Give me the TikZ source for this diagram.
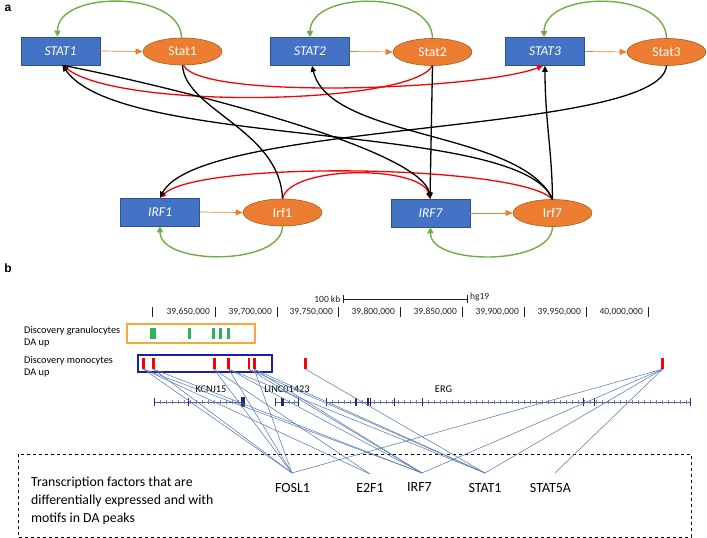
\documentclass[tikz,border=0pt]{standalone}
\usepackage{fontspec}
\setmainfont{Carlito}
\newfontfamily\arialfont{Liberation Sans}
\usetikzlibrary{shapes.geometric,arrows.meta}
\definecolor{geneblue}{HTML}{4472C4}
\definecolor{genebd}{HTML}{2F528F}
\definecolor{protor}{HTML}{ED7D31}
\definecolor{protbd}{HTML}{AE5A21}
\definecolor{loopgreen}{HTML}{70AD47}
\definecolor{linkblue}{HTML}{5B7DB8}
\definecolor{navy}{HTML}{1F2A7A}
\definecolor{gorange}{HTML}{F5A93A}
\definecolor{gbox}{HTML}{1C1CB0}
\definecolor{ggreen}{HTML}{2EB25A}
\definecolor{txtgray}{HTML}{222222}
\begin{document}
\begin{tikzpicture}[x=1pt,y=-1pt,
  gene/.style={draw=genebd, fill=geneblue, minimum width=79pt, minimum height=28pt, inner sep=0pt, text=white, font=\fontsize{13.5}{15}\selectfont\itshape, line width=0.6pt},
  prot/.style={ellipse, draw=protbd, fill=protor, minimum width=79pt, minimum height=27pt, inner sep=0pt, text=white, font=\fontsize{13.5}{15}\selectfont, line width=0.6pt},
  selfloop/.style={draw=loopgreen, line width=1.4pt, -{Triangle[length=6pt,width=6pt]}},
  expr/.style={draw=protor, line width=0.7pt, -{Triangle[length=7pt,width=6pt]}},
  act/.style={draw=black, line width=1.3pt, -{Triangle[length=6pt,width=5.5pt]}},
  actplain/.style={draw=black, line width=1.3pt},
  rep/.style={draw=red, line width=1.3pt, -{Triangle[length=6pt,width=5.5pt]}},
  tick/.style={font=\fontsize{9.5}{11}\selectfont, text=txtgray, inner sep=0pt},
  trk/.style={font=\fontsize{10.3}{12}\selectfont, text=black, inner sep=0pt, align=left},
  pk/.style={minimum width=3pt, minimum height=11pt, inner sep=0pt, draw=none},
  link/.style={draw=linkblue, line width=0.55pt},
  tf/.style={font=\fontsize{14}{16}\selectfont, text=black, inner sep=0pt},
  panel/.style={font=\arialfont\bfseries\fontsize{12}{14}\selectfont, inner sep=0pt}
]
\useasboundingbox (0,0) rectangle (707,538);

% ---------------- panel a ----------------
\node[panel] (la) at (8,8) {a};

\node[gene] (STAT1) at (60.5,51) {STAT1};
\node[prot] (Stat1) at (182.5,51.5) {Stat1};
\node[gene] (STAT2) at (310,51.5) {STAT2};
\node[prot] (Stat2) at (432.5,52) {Stat2};
\node[gene] (STAT3) at (545,51.5) {STAT3};
\node[prot] (Stat3) at (666.5,52) {Stat3};
\node[gene] (IRF1) at (160,212) {IRF1};
\node[prot] (Irf1) at (282.5,212.5) {Irf1};
\node[gene] (IRF7) at (430.5,213) {IRF7};
\node[prot] (Irf7) at (552.5,213) {Irf7};

% expression arrows
\draw[expr] (STAT1.east) -- (Stat1.west);
\draw[expr] (STAT2.east) -- (Stat2.west);
\draw[expr] (STAT3.east) -- (Stat3.west);
\draw[expr] (IRF1.east) -- (Irf1.west);
\draw[expr] (IRF7.east) -- (Irf7.west);

% self loops
\draw[selfloop] ([xshift=-1pt]Stat1.north) .. controls (181,-10) and (57,-10) .. ([xshift=-3pt]STAT1.north);
\draw[selfloop] (Stat2.north) .. controls (432,-10) and (310,-10) .. (STAT2.north);
\draw[selfloop] (Stat3.north) .. controls (666,-10) and (544,-10) .. ([xshift=-1pt]STAT3.north);
\draw[selfloop] (Irf1.south) .. controls (282,266) and (160,266) .. (IRF1.south);
\draw[selfloop] (Irf7.south) .. controls (552,266) and (430,266) .. (IRF7.south);

% red edges
\draw[rep] ([xshift=1pt]Stat1.south) .. controls (200,100) and (480,90) .. ([xshift=-2pt]STAT3.south);
\draw[rep] (Stat2.south) .. controls (410,105) and (120,110) .. ([xshift=2pt]STAT1.south);
\draw[rep] (Irf7.north) .. controls (520,165) and (200,160) .. (IRF1.north);
\draw[rep] (Irf1.north) .. controls (290,165) and (420,165) .. (IRF7.north);

% black edges
\draw[act] (Stat2.south) -- ([xshift=-0.5pt]IRF7.north);
\draw[act] (Irf7.north) .. controls (552,150) and (545,120) .. (STAT3.south);
\draw[act] (Irf7.north) .. controls (520,130) and (330,140) .. ([xshift=2pt]STAT2.south);
\draw[act] (Irf7.north) .. controls (520,120) and (120,150) .. ([xshift=2pt]STAT1.south);
\draw[act] ([xshift=2pt]STAT1.south) .. controls (140,80) and (420,145) .. (IRF7.north);
\draw[actplain] (Stat1.south) .. controls (185,110) and (280,130) .. (Irf1.north);
\draw[act] (Stat3.south) .. controls (660,135) and (200,120) .. (IRF1.north);

% ---------------- panel b ----------------
\node[panel] (lb) at (8,268) {b};

% scale bar
\node[tick, anchor=east] (kb) at (340.5,299) {100 kb};
\node[tick, anchor=west] (hg) at (470,297.5) {hg19};
\draw[txtgray, line width=0.5pt] (343,299) -- (467,299) (343,295) -- (343,303) (467,295) -- (467,303);

% coordinate ticks
\draw[txtgray, line width=0.5pt] (152,307) -- (152,317);
\foreach \bx/\lab in {215/{39,650,000}, 277/{39,700,000}, 338/{39,750,000}, 400/{39,800,000}, 462/{39,850,000}, 524/{39,900,000}, 586/{39,950,000}, 648/{40,000,000}}{
  \draw[txtgray, line width=0.5pt] (\bx,307) -- (\bx,317);
  \node[tick, anchor=east] at (\bx-5,312) {\lab};
}

% tracks
\node[trk, anchor=west] (tg) at (24,337) {Discovery granulocytes\\DA up};
\draw[gorange, line width=1.8pt] (127,324) rectangle (255,343);
\foreach \gx/\gw in {153/5.5, 189/3, 213/3, 220/3, 228/3}{
  \fill[ggreen] (\gx-\gw/2,328) rectangle (\gx+\gw/2,339);
}

\node[trk, anchor=west] (tm) at (24,367) {Discovery monocytes\\DA up};
\draw[gbox, line width=1.8pt] (138,355) rectangle (272,372);
\node[pk, fill=red] (p1) at (143.6,363.5) {};
\node[pk, fill=red] (p2) at (153.6,363.5) {};
\node[pk, fill=red] (p3) at (214,363.5) {};
\node[pk, fill=red] (p4) at (228.6,363.5) {};
\node[pk, fill=red, minimum width=1.5pt] (p5) at (249,363.5) {};
\node[pk, fill=red] (p6) at (254.2,363.5) {};
\node[pk, fill=red] (p7) at (305.5,363.5) {};
\node[pk, fill=red] (p8) at (662.5,363.5) {};

% gene track
\node[trk] (gk) at (211,389.5) {KCNJ15};
\node[trk] (gl) at (287,389.5) {LINC01423};
\node[trk] (ge) at (443.5,389.5) {ERG};
\draw[navy!75, line width=0.6pt] (154,402) -- (244,402) (275,402) -- (298,402) (326,402) -- (690,402);
\foreach \x in {160,166,...,238} \draw[navy!60, line width=0.4pt] (\x,400.3) -- (\x,403.7);
\foreach \x in {289,294} \draw[navy!60, line width=0.4pt] (\x,400.3) -- (\x,403.7);
\foreach \x in {332,338,...,688} \draw[navy!60, line width=0.4pt] (\x,400.3) -- (\x,403.7);
\foreach \x in {154,188,275,298,326,355,356.8,367,368.5,370,394,422,583,594,690}
  \draw[navy, line width=0.8pt] (\x,398) -- (\x,406);
\fill[navy] (241,397) rectangle (244.5,407);
\fill[navy] (281,398) rectangle (283.5,406);

% transcription factor box
\draw[black, dashed, line width=0.8pt] (18,454) rectangle (691,537);
\node[tf, anchor=west, align=left, font=\fontsize{13.8}{18}\selectfont] (desc) at (31,501) {Transcription factors that are\\differentially expressed and with\\motifs in DA peaks};
\node[tf] (FOSL1) at (292.5,487.5) {FOSL1};
\node[tf] (E2F1) at (370,487.5) {E2F1};
\node[tf] (IRF7l) at (419.5,487.5) {IRF7};
\node[tf] (STAT1l) at (485,487.5) {STAT1};
\node[tf] (STAT5A) at (550.5,487.5) {STAT5A};
\coordinate (cF) at (292,473);
\coordinate (cE) at (370,474);
\coordinate (cI) at (422,473);
\coordinate (cS) at (485,473);
\coordinate (cS5) at (555,473);

% links from peaks to TFs
\draw[link] (p1.south) -- (cF);
\draw[link] (p1.south) -- (cE);
\draw[link] (p1.south) -- (cI);
\draw[link] (p2.south) -- (cF);
\draw[link] (p2.south) -- (cI);
\draw[link] (p3.south) -- (cF);
\draw[link] (p3.south) -- (cE);
\draw[link] (p4.south) -- (cF);
\draw[link] (p4.south) -- (cI);
\draw[link] (p4.south) -- (cS);
\draw[link] (p5.south) -- (cI);
\draw[link] (p5.south) -- (cS);
\draw[link] (p6.south) -- (cF);
\draw[link] (p6.south) -- (cI);
\draw[link] (p6.south) -- (cS);
\draw[link] (p7.south) -- (cS);
\draw[link] (p8.south) -- (cF);
\draw[link] (p8.south) -- (cI);
\draw[link] (p8.south) -- (cS);
\draw[link] (p8.south) -- (cS5);
\end{tikzpicture}
\end{document}
